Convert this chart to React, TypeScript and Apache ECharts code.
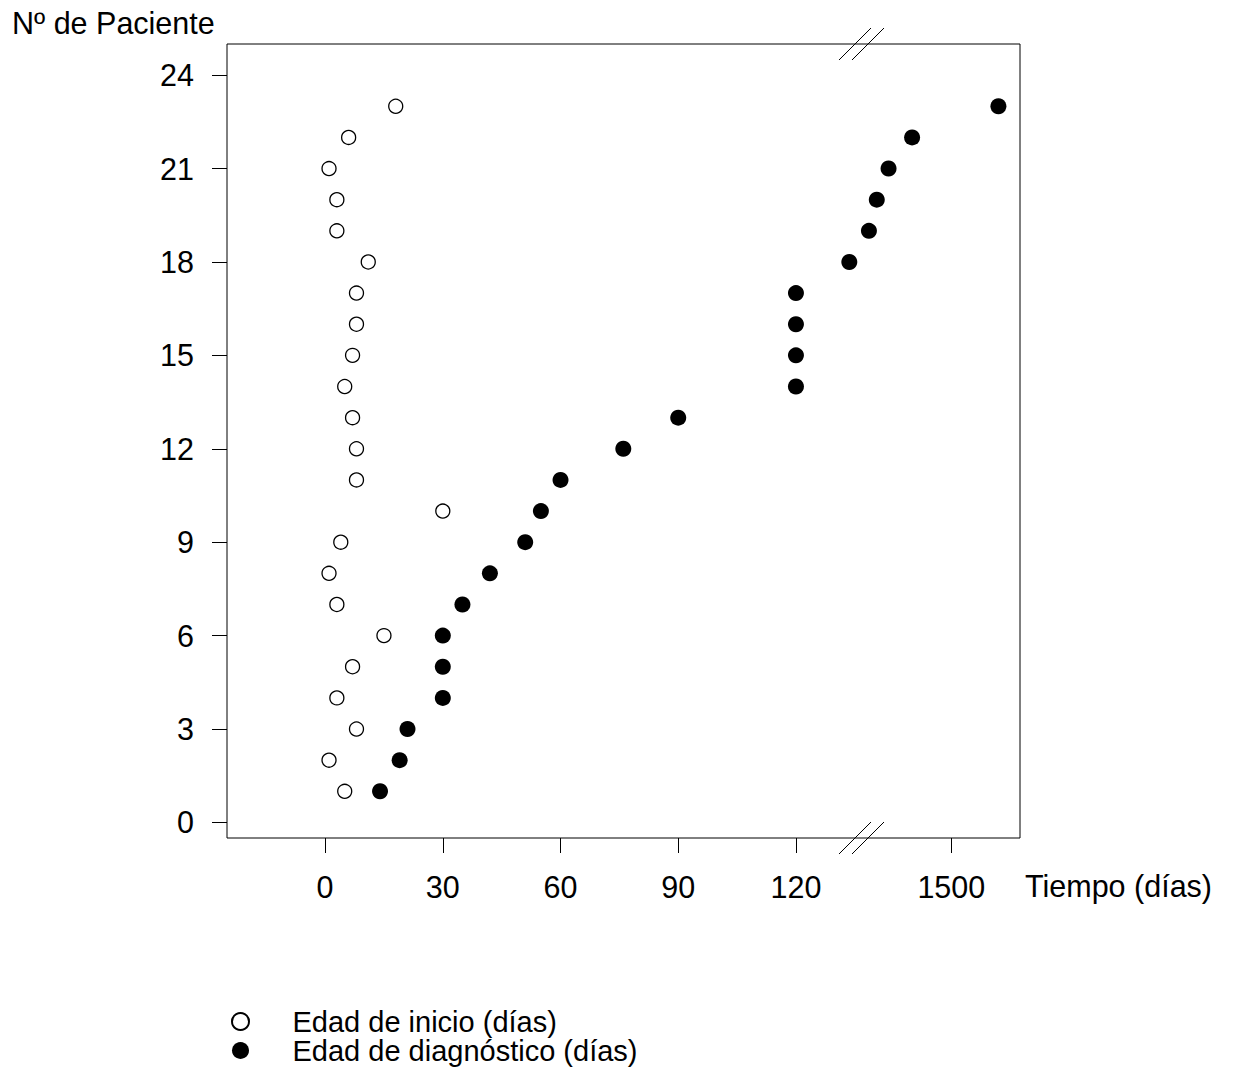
import React, { useEffect, useRef } from "react";
import * as echarts from "echarts";

const patients = [1, 2, 3, 4, 5, 6, 7, 8, 9, 10, 11, 12, 13, 14, 15, 16, 17, 18, 19, 20, 21, 22, 23];
const onsetDays = [5, 1, 8, 3, 7, 15, 3, 1, 4, 30, 8, 8, 7, 5, 7, 8, 8, 11, 3, 3, 1, 6, 18];
const diagnosisDays = [14, 19, 21, 30, 30, 30, 35, 42, 51, 55, 60, 76, 90, 120, 120, 120, 120, 1474, 1479, 1481, 1484, 1490, 1512];
const xTicks = [0, 30, 60, 90, 120, 1500];
const yTicks = [0, 3, 6, 9, 12, 15, 18, 21, 24];
const seriesNames = ["Edad de inicio (días)", "Edad de diagnóstico (días)"];
const yTitle = "Nº de Paciente";
const xTitle = "Tiempo (días)";
const axisBreak = { start: 130, end: 1470.4 };

const FONT = "Liberation Sans, Arial, Helvetica, sans-serif";
const FS = 30.5;

export default function App() {
  const ref = useRef<HTMLDivElement>(null);
  useEffect(() => {
    if (!ref.current) return;
    const chart = echarts.init(ref.current, null, { renderer: "svg" });
    const breakMark = (cx: number, cy: number) => [
      { type: "line", shape: { x1: cx - 23, y1: cy + 16, x2: cx + 9, y2: cy - 16 }, style: { stroke: "#000", lineWidth: 1 } },
      { type: "line", shape: { x1: cx - 10, y1: cy + 16, x2: cx + 22, y2: cy - 16 }, style: { stroke: "#000", lineWidth: 1 } },
    ];
    chart.setOption({
      animation: false,
      backgroundColor: "#fff",
      textStyle: { fontFamily: FONT, color: "#000" },
      grid: {
        left: 227,
        right: 213,
        top: 44,
        bottom: 242,
        show: true,
        borderColor: "#000",
        borderWidth: 1,
        backgroundColor: "transparent",
      },
      xAxis: {
        type: "value",
        min: -25,
        max: 1517.5,
        breaks: [{ start: axisBreak.start, end: axisBreak.end, gap: 0 }],
        breakArea: { show: false },
        axisLine: { show: false, onZero: false },
        splitLine: { show: false },
        axisTick: { show: true, length: 15, lineStyle: { color: "#000" }, customValues: xTicks },
        axisLabel: {
          fontSize: FS,
          color: "#000",
          fontFamily: FONT,
          margin: 33,
          customValues: xTicks,
          formatter: (v: number) => String(v),
        },
      },
      yAxis: {
        type: "value",
        min: -0.5,
        max: 25,
        axisLine: { show: false, onZero: false },
        splitLine: { show: false },
        axisTick: { show: true, length: 15, lineStyle: { color: "#000" }, customValues: yTicks },
        axisLabel: {
          fontSize: FS,
          color: "#000",
          fontFamily: FONT,
          margin: 33,
          customValues: yTicks,
          formatter: (v: number) => String(v),
        },
      },
      legend: {
        orient: "vertical",
        left: 226,
        top: 1002,
        itemWidth: 94,
        itemHeight: 17,
        itemGap: 0,
        textStyle: { fontSize: 29, color: "#000", fontFamily: FONT, lineHeight: 29 },
        data: seriesNames,
      },
      series: [
        {
          name: seriesNames[0],
          type: "scatter",
          symbol: "circle",
          symbolSize: 14,
          itemStyle: { color: "#fff", borderColor: "#000", borderWidth: 1.3, opacity: 1 },
          data: patients.map((p, i) => [onsetDays[i], p]),
        },
        {
          name: seriesNames[1],
          type: "scatter",
          symbol: "circle",
          symbolSize: 16,
          itemStyle: { color: "#000", borderColor: "#000", borderWidth: 0, opacity: 1 },
          data: patients.map((p, i) => [diagnosisDays[i], p]),
        },
      ],
      graphic: [
        { type: "text", left: 12, top: 7, style: { text: yTitle, font: `${FS}px ${FONT}`, fill: "#000" } },
        { type: "text", left: 1025, top: 870, style: { text: xTitle, font: `${FS}px ${FONT}`, fill: "#000" } },
        ...breakMark(862, 44),
        ...breakMark(862, 838),
      ],
    });
    return () => chart.dispose();
  }, []);
  return <div ref={ref} style={{ position: "fixed", left: 0, top: 0, width: 1233, height: 1080, background: "#fff" }} />;
}
